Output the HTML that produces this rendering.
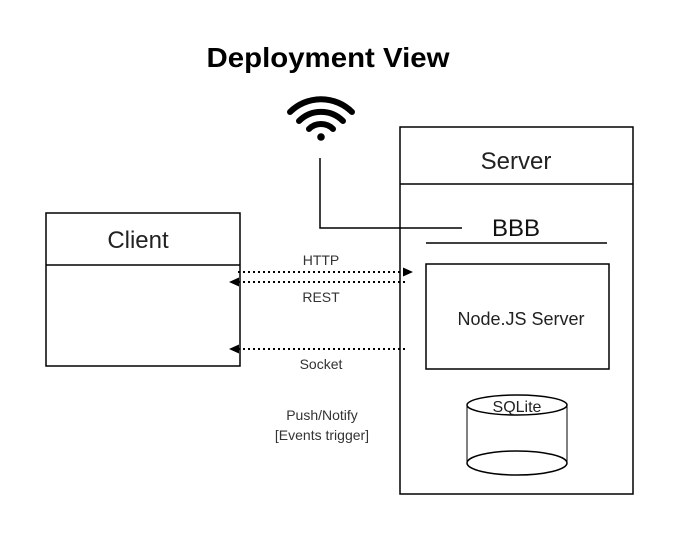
<!DOCTYPE html>
<html><head><style>
html,body{margin:0;padding:0;background:#fff;}
svg{display:block;}
text{font-family:"Liberation Sans",sans-serif;}
</style></head><body>
<svg width="674" height="546" viewBox="0 0 674 546" xmlns="http://www.w3.org/2000/svg">
<text x="328" y="67" font-size="28" font-weight="bold" text-anchor="middle" fill="#000" textLength="243" lengthAdjust="spacingAndGlyphs">Deployment View</text>
<!-- wifi -->
<g fill="none" stroke="#000" stroke-linecap="round">
<path d="M290 112 A44 44 0 0 1 352 112" stroke-width="6"/>
<path d="M299 121 A31 31 0 0 1 343 121" stroke-width="6"/>
<path d="M309 129 A17 17 0 0 1 333 129" stroke-width="6"/>
</g>
<circle cx="321" cy="137" r="3.8" fill="#000"/>
<!-- wire -->
<polyline points="320,158 320,228 462,228" fill="none" stroke="#000" stroke-width="1.5"/>
<!-- client -->
<rect x="46" y="213" width="194" height="153" fill="none" stroke="#000" stroke-width="1.5"/>
<line x1="46" y1="265" x2="240" y2="265" stroke="#000" stroke-width="1.5"/>
<text x="138" y="248" font-size="24" text-anchor="middle" fill="#222">Client</text>
<!-- server -->
<rect x="400" y="127" width="233" height="367" fill="none" stroke="#000" stroke-width="1.5"/>
<line x1="400" y1="184" x2="633" y2="184" stroke="#000" stroke-width="1.5"/>
<text x="516" y="169" font-size="24" text-anchor="middle" fill="#222">Server</text>
<text x="516" y="236" font-size="24" text-anchor="middle" fill="#111">BBB</text>
<line x1="426" y1="243" x2="607" y2="243" stroke="#000" stroke-width="1.5"/>
<rect x="426" y="264" width="183" height="105" fill="none" stroke="#000" stroke-width="1.5"/>
<text x="521" y="325" font-size="18" text-anchor="middle" fill="#222">Node.JS Server</text>
<!-- cylinder -->
<path d="M467 405 L467 463 M567 405 L567 463" stroke="#000" stroke-width="1"/>
<ellipse cx="517" cy="463" rx="50" ry="12" fill="none" stroke="#000" stroke-width="1.5"/>
<ellipse cx="517" cy="405" rx="50" ry="10" fill="#fff" stroke="#000" stroke-width="1.5"/>
<text x="517" y="412" font-size="16" text-anchor="middle" fill="#222">SQLite</text>
<!-- arrows -->
<g stroke="#000" stroke-width="2" stroke-dasharray="2,3">
<line x1="238" y1="272" x2="404" y2="272"/>
<line x1="238" y1="282" x2="408" y2="282"/>
<line x1="238" y1="349" x2="408" y2="349"/>
</g>
<polygon points="413,272 403,267.5 403,276.5" fill="#000"/>
<polygon points="229,282 239,277.5 239,286.5" fill="#000"/>
<polygon points="229,349 239,344.5 239,353.5" fill="#000"/>
<text x="321" y="265" font-size="14" text-anchor="middle" fill="#333">HTTP</text>
<text x="321" y="302" font-size="14" text-anchor="middle" fill="#333">REST</text>
<text x="321" y="369" font-size="14" text-anchor="middle" fill="#333">Socket</text>
<text x="322" y="420" font-size="14" text-anchor="middle" fill="#333">Push/Notify</text>
<text x="322" y="440" font-size="14" text-anchor="middle" fill="#333">[Events trigger]</text>
</svg>
</body></html>
